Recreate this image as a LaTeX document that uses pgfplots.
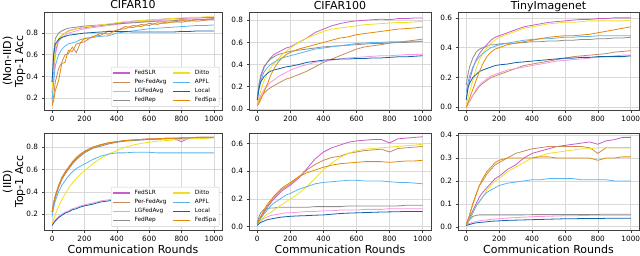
\documentclass[border=0pt]{standalone}
\usepackage{fontspec}
\setmainfont{DejaVu Sans}
\usepackage{pgfplots}
\usepackage{pgfplotstable}
\pgfplotsset{compat=1.18}

\definecolor{cSLR}{HTML}{C85CC8}
\definecolor{cPER}{HTML}{C98A5C}
\definecolor{cLG}{HTML}{F796E2}
\definecolor{cREP}{HTML}{8C8C8C}
\definecolor{cDIT}{HTML}{EEE020}
\definecolor{cAPF}{HTML}{5AB4EE}
\definecolor{cLOC}{HTML}{0E62A8}
\definecolor{cSPA}{HTML}{E88A00}

% CIFAR10 Non-IID
\pgfplotstableread{
x slr per lg rep dit apf loc spa
0 0.25 0.15 0.20 0.35 0.25 0.18 0.35 0.13
10 0.45 0.22 0.40 0.62 0.50 0.35 0.60 0.18
20 0.62 0.35 0.60 0.75 0.66 0.50 0.70 0.27
40 0.74 0.47 0.72 0.80 0.75 0.60 0.74 0.36
60 0.78 0.53 0.76 0.82 0.78 0.65 0.76 0.52
80 0.80 0.60 0.78 0.835 0.80 0.68 0.77 0.53
100 0.82 0.61 0.80 0.845 0.815 0.70 0.78 0.64
125 0.83 0.67 0.81 0.85 0.83 0.71 0.785 0.63
150 0.84 0.62 0.82 0.855 0.84 0.72 0.79 0.70
175 0.845 0.71 0.83 0.86 0.85 0.74 0.795 0.71
200 0.85 0.72 0.84 0.865 0.855 0.75 0.80 0.75
250 0.86 0.77 0.85 0.87 0.865 0.76 0.805 0.76
300 0.87 0.78 0.86 0.875 0.875 0.77 0.81 0.80
350 0.88 0.82 0.87 0.88 0.885 0.775 0.815 0.79
400 0.89 0.82 0.88 0.885 0.895 0.80 0.815 0.83
450 0.90 0.86 0.89 0.89 0.905 0.81 0.815 0.84
500 0.91 0.85 0.90 0.895 0.91 0.82 0.81 0.87
550 0.915 0.88 0.905 0.90 0.915 0.83 0.81 0.86
600 0.92 0.87 0.91 0.905 0.92 0.84 0.81 0.89
650 0.925 0.895 0.915 0.91 0.925 0.845 0.81 0.88
700 0.93 0.89 0.92 0.91 0.93 0.85 0.81 0.90
750 0.935 0.905 0.92 0.915 0.935 0.855 0.81 0.90
800 0.935 0.90 0.925 0.92 0.94 0.86 0.815 0.915
850 0.94 0.915 0.93 0.92 0.945 0.865 0.815 0.91
900 0.94 0.91 0.93 0.925 0.945 0.87 0.82 0.925
950 0.945 0.92 0.93 0.925 0.95 0.87 0.82 0.92
1000 0.945 0.92 0.935 0.93 0.95 0.875 0.82 0.93
}\tA

% CIFAR100 Non-IID
\pgfplotstableread{
x slr per lg rep dit apf loc spa
0 0.08 0.04 0.05 0.10 0.05 0.08 0.08 0.03
10 0.20 0.07 0.09 0.22 0.10 0.18 0.18 0.05
20 0.28 0.10 0.12 0.30 0.16 0.25 0.24 0.08
40 0.37 0.14 0.17 0.38 0.25 0.33 0.29 0.15
60 0.42 0.17 0.21 0.42 0.32 0.37 0.32 0.22
80 0.46 0.19 0.24 0.45 0.37 0.40 0.34 0.30
100 0.49 0.21 0.26 0.47 0.41 0.42 0.35 0.36
125 0.51 0.23 0.29 0.49 0.45 0.44 0.36 0.42
150 0.53 0.25 0.31 0.50 0.49 0.46 0.37 0.46
175 0.55 0.27 0.33 0.51 0.52 0.47 0.38 0.49
200 0.56 0.28 0.35 0.52 0.55 0.48 0.385 0.51
250 0.60 0.31 0.38 0.53 0.60 0.50 0.40 0.54
300 0.64 0.34 0.40 0.54 0.64 0.52 0.42 0.56
350 0.69 0.38 0.42 0.55 0.67 0.54 0.43 0.58
400 0.72 0.42 0.43 0.56 0.70 0.55 0.44 0.60
450 0.75 0.45 0.44 0.565 0.72 0.56 0.445 0.62
500 0.77 0.48 0.45 0.57 0.73 0.57 0.45 0.64
550 0.785 0.51 0.46 0.575 0.74 0.58 0.45 0.65
600 0.795 0.54 0.465 0.58 0.75 0.59 0.455 0.67
650 0.80 0.56 0.47 0.585 0.76 0.595 0.455 0.68
700 0.805 0.57 0.475 0.59 0.765 0.60 0.46 0.69
750 0.81 0.58 0.48 0.59 0.77 0.60 0.46 0.70
800 0.805 0.595 0.48 0.595 0.775 0.605 0.465 0.71
850 0.815 0.60 0.485 0.60 0.78 0.605 0.47 0.72
900 0.815 0.61 0.49 0.60 0.78 0.61 0.47 0.725
950 0.82 0.62 0.49 0.605 0.785 0.61 0.475 0.73
1000 0.82 0.63 0.495 0.61 0.79 0.61 0.48 0.74
}\tB

% TinyImagenet Non-IID
\pgfplotstableread{
x slr per lg rep dit apf loc spa
0 0.05 0.00 0.00 0.15 0.02 0.10 0.05 0.00
10 0.12 0.02 0.02 0.22 0.06 0.16 0.13 0.03
20 0.18 0.04 0.04 0.27 0.10 0.21 0.16 0.06
40 0.26 0.08 0.08 0.33 0.18 0.27 0.20 0.12
60 0.32 0.11 0.12 0.37 0.26 0.31 0.22 0.18
80 0.36 0.14 0.15 0.39 0.32 0.34 0.24 0.24
100 0.39 0.16 0.17 0.40 0.36 0.36 0.25 0.29
125 0.42 0.18 0.19 0.41 0.40 0.38 0.26 0.34
150 0.45 0.20 0.21 0.42 0.43 0.40 0.27 0.37
175 0.47 0.21 0.22 0.42 0.45 0.41 0.28 0.39
200 0.48 0.22 0.23 0.425 0.47 0.42 0.285 0.40
250 0.50 0.24 0.25 0.43 0.49 0.43 0.29 0.42
300 0.52 0.26 0.26 0.43 0.51 0.44 0.30 0.43
350 0.54 0.28 0.27 0.435 0.53 0.45 0.305 0.44
400 0.55 0.29 0.28 0.44 0.54 0.455 0.31 0.45
450 0.56 0.30 0.29 0.44 0.55 0.46 0.315 0.46
500 0.57 0.31 0.30 0.445 0.56 0.46 0.32 0.47
550 0.575 0.32 0.31 0.445 0.565 0.465 0.325 0.475
600 0.58 0.33 0.315 0.45 0.57 0.47 0.33 0.48
650 0.585 0.34 0.32 0.45 0.57 0.47 0.33 0.48
700 0.59 0.345 0.325 0.455 0.575 0.475 0.335 0.485
750 0.59 0.35 0.33 0.455 0.58 0.475 0.335 0.49
800 0.595 0.355 0.335 0.46 0.58 0.48 0.34 0.50
850 0.595 0.36 0.34 0.46 0.58 0.48 0.34 0.51
900 0.60 0.37 0.345 0.465 0.58 0.48 0.34 0.52
950 0.60 0.375 0.35 0.465 0.58 0.48 0.34 0.53
1000 0.60 0.38 0.35 0.47 0.585 0.48 0.345 0.54
}\tC

% CIFAR10 IID
\pgfplotstableread{
x slr per lg rep dit apf loc spa
0 0.22 0.22 0.10 0.22 0.12 0.18 0.10 0.22
10 0.30 0.31 0.13 0.29 0.15 0.26 0.12 0.30
20 0.36 0.37 0.15 0.35 0.20 0.32 0.14 0.36
40 0.45 0.46 0.18 0.44 0.27 0.40 0.17 0.45
60 0.52 0.53 0.20 0.51 0.33 0.46 0.19 0.52
80 0.57 0.58 0.22 0.56 0.38 0.50 0.21 0.57
100 0.61 0.62 0.23 0.60 0.43 0.54 0.22 0.61
125 0.66 0.67 0.25 0.65 0.48 0.58 0.24 0.66
150 0.70 0.71 0.26 0.69 0.52 0.61 0.25 0.70
175 0.73 0.74 0.275 0.72 0.56 0.63 0.265 0.73
200 0.76 0.765 0.285 0.75 0.59 0.65 0.275 0.76
250 0.80 0.80 0.30 0.79 0.65 0.69 0.29 0.80
300 0.82 0.825 0.32 0.81 0.70 0.72 0.31 0.82
350 0.84 0.84 0.33 0.83 0.74 0.74 0.32 0.84
400 0.85 0.85 0.34 0.845 0.77 0.75 0.33 0.85
450 0.86 0.86 0.345 0.855 0.80 0.75 0.34 0.86
500 0.865 0.865 0.35 0.86 0.82 0.755 0.345 0.865
550 0.87 0.87 0.355 0.865 0.835 0.755 0.35 0.87
600 0.875 0.875 0.36 0.87 0.845 0.755 0.355 0.875
650 0.875 0.878 0.36 0.872 0.855 0.75 0.355 0.875
700 0.88 0.88 0.365 0.875 0.86 0.75 0.36 0.88
750 0.88 0.882 0.365 0.878 0.865 0.75 0.36 0.88
800 0.85 0.885 0.37 0.88 0.87 0.75 0.365 0.885
850 0.885 0.885 0.37 0.882 0.875 0.75 0.365 0.885
900 0.89 0.888 0.37 0.885 0.88 0.75 0.365 0.89
950 0.89 0.89 0.375 0.885 0.88 0.75 0.37 0.89
1000 0.89 0.89 0.375 0.888 0.885 0.75 0.37 0.89
}\tD

% CIFAR100 IID
\pgfplotstableread{
x slr per lg rep dit apf loc spa
0 0.02 0.02 0.01 0.03 0.01 0.02 0.01 0.02
10 0.04 0.05 0.03 0.07 0.03 0.04 0.02 0.05
20 0.06 0.07 0.04 0.10 0.05 0.06 0.03 0.07
40 0.10 0.11 0.06 0.125 0.07 0.09 0.04 0.12
60 0.14 0.15 0.07 0.13 0.09 0.12 0.05 0.16
80 0.17 0.18 0.08 0.135 0.10 0.15 0.055 0.19
100 0.20 0.21 0.085 0.135 0.12 0.17 0.06 0.22
125 0.23 0.24 0.09 0.14 0.14 0.19 0.065 0.25
150 0.26 0.27 0.095 0.14 0.16 0.21 0.07 0.28
175 0.28 0.29 0.10 0.14 0.18 0.23 0.072 0.30
200 0.30 0.31 0.10 0.14 0.20 0.24 0.075 0.32
250 0.35 0.36 0.105 0.14 0.24 0.27 0.078 0.36
300 0.42 0.41 0.11 0.14 0.29 0.29 0.08 0.39
350 0.49 0.45 0.11 0.145 0.35 0.31 0.083 0.41
400 0.54 0.48 0.115 0.145 0.41 0.32 0.085 0.43
450 0.57 0.50 0.115 0.145 0.46 0.325 0.09 0.445
500 0.59 0.51 0.12 0.145 0.50 0.33 0.095 0.455
550 0.61 0.53 0.12 0.15 0.53 0.335 0.098 0.46
600 0.62 0.54 0.12 0.15 0.55 0.335 0.10 0.465
650 0.625 0.55 0.125 0.15 0.56 0.33 0.102 0.47
700 0.63 0.555 0.125 0.15 0.565 0.33 0.104 0.47
750 0.63 0.56 0.125 0.15 0.57 0.33 0.106 0.47
800 0.605 0.54 0.13 0.15 0.575 0.325 0.107 0.465
850 0.635 0.565 0.13 0.15 0.58 0.32 0.108 0.47
900 0.64 0.57 0.13 0.155 0.585 0.32 0.11 0.475
950 0.645 0.575 0.13 0.155 0.59 0.315 0.11 0.475
1000 0.65 0.58 0.13 0.155 0.595 0.31 0.11 0.48
}\tE

% TinyImagenet IID
\pgfplotstableread{
x slr per lg rep dit apf loc spa
0 0.01 0.01 0.01 0.01 0.01 0.01 0.005 0.01
10 0.02 0.03 0.012 0.02 0.02 0.02 0.008 0.03
20 0.04 0.05 0.015 0.03 0.03 0.03 0.01 0.05
40 0.07 0.10 0.02 0.045 0.06 0.06 0.014 0.10
60 0.10 0.14 0.023 0.05 0.09 0.09 0.017 0.14
80 0.13 0.18 0.026 0.052 0.11 0.11 0.019 0.18
100 0.15 0.20 0.028 0.052 0.13 0.13 0.02 0.21
125 0.17 0.23 0.03 0.052 0.16 0.15 0.022 0.24
150 0.19 0.25 0.032 0.052 0.18 0.16 0.024 0.26
175 0.21 0.27 0.034 0.052 0.20 0.17 0.025 0.28
200 0.22 0.28 0.035 0.052 0.21 0.18 0.026 0.29
250 0.25 0.30 0.038 0.052 0.24 0.19 0.028 0.30
300 0.27 0.32 0.04 0.052 0.26 0.195 0.029 0.30
350 0.30 0.33 0.042 0.052 0.28 0.20 0.03 0.30
400 0.32 0.34 0.044 0.053 0.30 0.205 0.031 0.30
450 0.33 0.345 0.045 0.053 0.31 0.205 0.032 0.305
500 0.34 0.35 0.046 0.053 0.32 0.21 0.033 0.305
550 0.35 0.35 0.047 0.053 0.325 0.21 0.034 0.30
600 0.355 0.35 0.048 0.053 0.33 0.21 0.035 0.30
650 0.36 0.35 0.048 0.054 0.335 0.21 0.035 0.30
700 0.365 0.35 0.049 0.054 0.34 0.205 0.036 0.30
750 0.37 0.345 0.05 0.054 0.34 0.205 0.036 0.30
800 0.36 0.32 0.05 0.054 0.345 0.205 0.036 0.29
850 0.375 0.345 0.05 0.055 0.345 0.205 0.037 0.30
900 0.38 0.345 0.05 0.055 0.345 0.20 0.037 0.30
950 0.39 0.345 0.05 0.055 0.345 0.20 0.037 0.305
1000 0.39 0.345 0.05 0.055 0.345 0.20 0.037 0.305
}\tF

\newcommand{\curves}[1]{%
  \addplot[cSLR, forget plot] table[x=x,y=slr]{#1};
  \addplot[cPER, forget plot] table[x=x,y=per]{#1};
  \addplot[cLG, forget plot] table[x=x,y=lg]{#1};
  \addplot[cREP, forget plot] table[x=x,y=rep]{#1};
  \addplot[cDIT, forget plot] table[x=x,y=dit]{#1};
  \addplot[cAPF, forget plot] table[x=x,y=apf]{#1};
  \addplot[cLOC, forget plot] table[x=x,y=loc]{#1};
  \addplot[cSPA, forget plot] table[x=x,y=spa]{#1};
}
\newcommand{\legimgs}{%
  \addlegendimage{cSLR, line width=1.3pt}\addlegendentry{FedSLR}
  \addlegendimage{cDIT, line width=1.3pt}\addlegendentry{Ditto}
  \addlegendimage{cPER, line width=1.3pt}\addlegendentry{Per-FedAvg}
  \addlegendimage{cAPF, line width=1.3pt}\addlegendentry{APFL}
  \addlegendimage{cLG, line width=1.3pt}\addlegendentry{LGFedAvg}
  \addlegendimage{cLOC, line width=1.3pt}\addlegendentry{Local}
  \addlegendimage{cREP, line width=1.3pt}\addlegendentry{FedRep}
  \addlegendimage{cSPA, line width=1.3pt}\addlegendentry{FedSpa}
}

\pgfplotsset{
  every axis title shift=0pt,
  every axis title/.style={at={(0.5,1)}, anchor=base, inner sep=0pt, yshift=3.5pt,
    font=\fontsize{11}{12}\selectfont},
  every axis/.append style={
    scale only axis,
    anchor=south west,
    xmin=-50, xmax=1050,
    xtick={0,200,400,600,800,1000},
    tick pos=left,
    tick align=outside,
    major tick length=2.5pt,
    grid=major,
    major grid style={gray!30, line width=0.6pt},
    axis line style={black!75, line width=0.6pt},
    tick style={black!75, line width=0.5pt},
    tick label style={font=\fontsize{7.3}{8}\selectfont},
    /pgf/number format/assume math mode=true,
    yticklabel style={/pgf/number format/fixed, /pgf/number format/fixed zerofill, /pgf/number format/precision=1},
    xticklabel style={/pgf/number format/1000 sep={}},
    label style={font=\fontsize{11}{12}\selectfont},
    every axis plot/.append style={line width=0.8pt},
    legend style={font=\fontsize{5.8}{6.5}\selectfont, draw=gray!40, rounded corners=1pt,
      at={(0.985,0.035)}, anchor=south east, legend columns=2,
      inner sep=1pt, row sep=-0.8pt, column sep=2pt,
      /tikz/every even column/.append style={column sep=4pt}},
    legend cell align=left,
  }
}

\begin{document}
\begin{tikzpicture}[x=1pt,y=1pt]
\useasboundingbox (0,0) rectangle (640,255);
% ---- top row
\begin{axis}[at={(44pt,145pt)}, width=178pt, height=97.5pt,
  ymin=0.09, ymax=0.99, ytick={0.2,0.4,0.6,0.8},
  title={CIFAR10},
  ylabel={(Non-IID)\\Top-1 Acc}, ylabel style={align=center, yshift=-6pt}]
\legimgs
\curves{\tA}
\end{axis}
\begin{axis}[at={(249pt,145pt)}, width=182pt, height=97.5pt,
  ymin=-0.01, ymax=0.87, ytick={0,0.2,0.4,0.6,0.8},
  title={CIFAR100}]
\curves{\tB}
\end{axis}
\begin{axis}[at={(458pt,145pt)}, width=181pt, height=97.5pt,
  ymin=-0.018, ymax=0.636, ytick={0,0.2,0.4,0.6},
  title={TinyImagenet}]
\curves{\tC}
\end{axis}
% ---- bottom row
\begin{axis}[at={(44pt,25pt)}, width=178pt, height=97pt,
  ymin=0.059, ymax=0.928, ytick={0.2,0.4,0.6,0.8},
  xlabel={Communication Rounds}, xlabel style={yshift=3pt},
  ylabel={(IID)\\Top-1 Acc}, ylabel style={align=center, yshift=-6pt}]
\legimgs
\curves{\tD}
\end{axis}
\begin{axis}[at={(249pt,25pt)}, width=182pt, height=97pt,
  ymin=-0.024, ymax=0.677, ytick={0,0.2,0.4,0.6},
  xlabel={Communication Rounds}, xlabel style={yshift=3pt}]
\curves{\tE}
\end{axis}
\begin{axis}[at={(458pt,25pt)}, width=181pt, height=97pt,
  ymin=-0.014, ymax=0.409, ytick={0,0.1,0.2,0.3,0.4},
  xlabel={Communication Rounds}, xlabel style={yshift=3pt}]
\curves{\tF}
\end{axis}
\end{tikzpicture}
\end{document}
